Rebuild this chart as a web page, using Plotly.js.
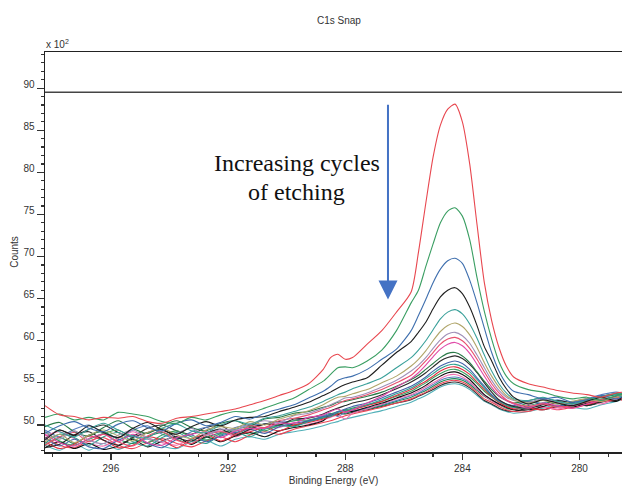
<!DOCTYPE html>
<html>
<head>
<meta charset="utf-8">
<script src="https://cdn.plot.ly/plotly-3.0.1.min.js"></script>
<style>html,body{margin:0;padding:0;background:#fff;}#chart{width:622px;height:486px;}</style>
</head>
<body>
<div id="chart"></div>
<script>
// Binding energy grid (eV)
const energy = [298.25,297.75,297.25,296.75,296.25,295.75,295.25,294.75,294.25,293.75,293.25,292.75,292.25,291.75,291.25,290.75,290.25,289.75,289.25,288.75,288.5,288.25,288.0,287.75,287.25,286.75,286.25,285.75,285.5,285.25,285.0,284.75,284.5,284.25,284.0,283.75,283.5,283.25,283.0,282.75,282.5,282.25,281.75,281.25,280.75,280.25,279.75,279.25,278.75,278.5];

// Counts (x 10^2), one array per etching cycle
const s01 = [52.3,51.2,51.0,50.6,50.9,50.8,51.0,50.4,50.2,50.8,51.0,51.3,51.6,51.9,52.4,52.9,53.5,54.1,54.9,56.6, 58.0,58.4,57.8,58.0,59.6,61.2,63.4,65.8,70.5,76.3,81.8,85.6,87.5,88.1,86.0,81.0,73.8,66.9,62.4,59.2, 57.0,55.7,54.9,54.5,54.1,53.8,53.6,53.3,53.8,53.9];
const s02 = [50.9,51.3,50.6,50.9,50.6,51.5,51.3,51.0,50.4,50.2,50.9,50.6,51.2,51.6,51.5,52.0,52.6,53.2,54.2,55.2, 56.0,56.8,56.9,56.8,57.6,58.9,61.2,64.5,66.0,68.8,71.5,74.0,75.4,75.8,74.8,72.0,67.5,63.5,60.2,57.5, 55.8,54.9,54.2,53.9,53.4,53.1,53.3,52.9,53.5,53.7];
const s03 = [49.0,49.9,50.4,49.6,49.2,50.1,50.5,49.7,49.3,50.2,50.6,49.9,50.3,51.0,50.7,51.4,51.9,52.4,53.2,54.0, 54.6,55.3,55.6,55.8,56.6,57.8,59.0,61.2,63.0,64.9,66.9,68.5,69.5,69.8,69.2,67.2,64.5,61.5,58.6,56.4, 54.9,54.0,53.6,53.1,53.3,52.7,53.0,53.5,53.1,53.4];
const s04 = [48.2,49.4,48.8,49.9,49.1,48.5,49.6,50.3,49.4,48.9,49.8,50.4,49.9,50.6,50.9,51.0,51.6,52.1,52.7,53.5, 53.9,54.4,54.8,55.1,55.6,57.1,58.6,59.9,61.0,62.2,63.8,65.2,66.0,66.3,65.6,64.0,61.8,59.3,57.6,55.7, 54.3,53.3,52.5,53.0,52.6,52.3,52.8,53.3,52.9,53.4];
const s05 = [50.0,49.2,48.6,49.5,50.2,49.4,48.7,48.5,49.6,50.1,49.3,49.1,50.0,50.5,50.1,50.8,51.1,51.6,52.1,52.8, 53.2,53.6,53.9,54.3,54.9,55.6,56.8,58.0,58.9,60.0,61.3,62.6,63.4,63.7,63.2,62.0,60.3,58.3,56.4,54.9, 53.8,53.1,52.9,53.3,52.8,52.5,52.9,53.4,53.6,53.2];
const s06 = [48.0,48.9,47.9,48.8,49.4,48.7,48.1,49.1,49.6,48.8,48.4,49.4,49.8,49.6,50.4,50.0,50.7,51.2,51.7,52.4, 52.9,53.3,53.4,53.7,54.2,55.0,55.8,57.0,57.8,58.8,60.0,61.1,61.8,62.1,61.7,60.7,59.2,57.4,55.8,54.5, 53.5,53.0,52.6,52.9,52.5,52.8,53.1,52.8,53.3,53.5];
const s07 = [49.2,48.3,49.3,48.2,47.8,48.8,49.4,48.5,48.0,49.0,49.6,48.8,49.5,49.4,50.1,50.5,50.3,51.1,51.4,52.0, 52.4,52.8,53.2,53.3,53.8,54.5,55.3,56.4,57.1,58.0,59.1,60.1,60.8,61.0,60.6,59.7,58.3,56.8,55.3,54.1, 53.3,52.9,52.7,53.1,52.7,52.4,52.9,53.3,53.0,53.5];
const s08 = [47.6,48.6,49.1,48.0,48.9,48.0,47.5,48.7,49.2,48.2,47.8,48.8,49.2,48.9,49.9,49.7,50.5,50.8,51.2,51.8, 52.1,52.5,52.9,53.1,53.6,54.2,55.0,55.9,56.7,57.6,58.6,59.6,60.2,60.4,60.0,59.1,57.8,56.3,54.9,53.8, 53.0,52.6,52.2,52.5,52.1,52.3,52.7,53.0,53.3,53.1];
const s09 = [48.9,47.9,47.5,48.4,48.9,48.0,48.9,47.9,47.6,48.5,48.9,49.2,48.5,49.3,49.6,49.6,50.2,50.2,50.9,51.2, 51.6,51.9,51.5,51.8,52.6,53.4,54.5,55.5,56.2,57.1,58.1,59.0,59.6,59.8,59.4,58.5,57.2,55.8,54.5,53.5, 52.9,52.5,52.0,52.6,52.3,52.0,52.5,52.9,53.2,53.4];
const s10 = [49.8,50.3,49.2,48.7,49.7,50.5,49.6,49.0,49.9,50.5,49.7,49.3,50.2,50.5,49.9,50.7,50.9,51.4,51.6,52.1, 52.3,52.7,52.8,53.0,53.4,53.9,54.6,55.4,55.9,56.6,57.3,58.0,58.5,58.6,58.2,57.4,56.3,55.2,54.2,53.4, 52.9,52.6,52.9,53.2,52.8,52.5,52.9,53.4,53.7,53.5];
const s11 = [47.3,47.7,48.8,49.2,48.2,47.6,48.5,49.1,49.5,48.5,48.1,49.0,49.5,48.8,49.5,50.1,50.0,50.7,50.8,51.3, 51.7,52.0,52.3,52.6,53.0,53.6,54.3,55.1,55.6,56.2,56.9,57.6,58.0,58.2,57.9,57.2,56.2,55.0,53.9,53.0, 52.5,52.2,52.0,52.4,52.9,52.6,52.3,52.8,53.3,53.1];
const s12 = [48.5,47.5,48.3,47.4,47.2,48.2,48.7,47.8,47.3,48.3,48.8,48.0,48.7,49.1,49.5,49.0,49.8,50.2,50.5,51.0, 51.2,51.6,51.9,52.2,52.6,53.2,53.9,54.6,55.1,55.7,56.4,57.0,57.4,57.6,57.3,56.6,55.6,54.6,53.6,52.9, 52.5,52.3,52.8,52.5,52.2,52.7,53.1,52.9,53.4,53.6];
const s13 = [47.8,48.9,48.5,47.6,48.6,49.1,48.0,47.5,48.5,49.1,48.3,47.8,48.8,49.2,48.6,49.5,49.9,49.8,50.4,50.9, 51.0,51.5,51.7,51.9,52.4,53.0,53.7,54.4,54.9,55.5,56.1,56.7,57.1,57.2,56.9,56.3,55.4,54.4,53.5,52.8, 52.4,52.1,52.0,52.5,52.8,52.4,52.9,53.4,53.7,53.4];
const s14 = [48.0,47.2,47.7,48.7,48.2,47.3,47.6,48.6,48.2,47.3,48.3,48.9,48.1,48.8,49.2,49.7,49.3,50.0,50.3,50.7, 51.0,51.3,51.6,51.8,52.3,52.8,53.5,54.2,54.7,55.2,55.8,56.4,56.8,56.9,56.6,56.0,55.1,54.2,53.4,52.7, 52.2,51.9,52.0,51.8,52.3,52.0,52.4,52.8,53.0,53.3];
const s15 = [49.2,48.1,47.6,48.3,49.0,49.4,48.4,47.9,48.8,49.3,48.6,48.2,49.0,49.5,49.8,49.3,50.0,50.5,50.6,51.0, 51.3,51.6,51.8,52.0,52.4,52.8,53.4,54.0,54.5,55.0,55.6,56.1,56.5,56.6,56.3,55.7,54.9,54.0,53.3,52.7, 52.3,52.1,52.6,53.0,52.6,52.3,52.7,53.1,53.4,53.8];
const s16 = [47.3,48.0,47.2,47.8,47.1,47.5,48.3,47.4,48.1,48.6,47.7,48.6,48.0,48.7,49.1,48.6,49.3,49.7,50.0,50.5, 51.3,51.2,51.8,51.6,52.1,52.6,53.2,53.8,54.2,54.7,55.3,55.8,56.2,56.3,56.0,55.4,54.5,53.6,53.0,52.5, 52.1,51.8,51.8,52.2,52.6,52.1,52.6,53.0,52.8,53.3];
const s17 = [48.7,49.2,48.4,47.8,47.5,48.4,49.2,48.4,47.9,47.6,48.4,48.9,49.3,48.6,49.4,49.7,49.7,50.3,50.1,50.6, 50.9,51.2,50.7,51.4,51.9,52.5,53.1,53.6,54.0,54.5,55.0,55.5,55.9,56.0,55.7,55.1,54.3,53.5,52.9,52.4, 52.1,52.0,52.4,52.1,51.9,52.3,52.7,52.5,53.1,53.3];
const s18 = [49.4,48.6,49.5,50.0,49.0,48.5,49.4,49.9,48.9,48.4,49.2,49.7,48.9,49.7,50.0,50.1,50.3,50.5,50.9,51.1, 51.4,51.0,51.5,51.7,52.0,52.4,52.9,53.5,53.8,54.3,54.8,55.3,55.6,55.7,55.5,55.0,54.3,53.5,53.0,52.5, 52.2,52.1,52.1,52.6,53.0,52.6,53.1,53.6,53.9,53.7];
const s19 = [47.6,48.5,47.8,48.8,49.2,48.3,47.8,48.6,49.1,48.3,47.8,48.5,49.1,49.4,48.9,49.6,50.0,49.9,50.4,50.8, 51.0,51.3,51.4,51.6,51.9,52.3,52.8,53.3,53.7,54.1,54.6,55.1,55.4,55.5,55.3,54.8,54.1,53.4,52.9,52.4, 52.0,51.8,52.3,52.6,52.2,52.6,53.0,53.3,53.6,53.8];
const s20 = [48.5,47.6,47.3,48.1,48.5,47.6,47.2,47.9,48.4,47.8,47.4,48.1,48.6,48.0,48.8,49.2,48.9,49.5,49.9,50.3, 50.5,50.8,51.1,51.3,51.7,52.1,52.6,53.1,53.5,53.9,54.4,54.9,55.2,55.3,55.1,54.6,53.9,53.1,52.7,52.2, 51.8,51.6,51.6,52.1,51.8,52.1,52.5,52.9,53.1,52.9];
const s21 = [48.4,49.4,48.7,49.5,50.0,49.1,48.7,49.6,50.0,49.3,48.9,49.7,49.9,49.0,49.7,50.1,50.4,50.0,50.5,50.9, 51.1,51.4,51.3,51.5,51.8,52.2,52.6,53.0,53.4,53.8,54.2,54.7,55.0,55.1,54.9,54.4,53.7,52.9,52.5,52.0, 51.7,51.6,52.0,51.8,52.2,52.5,52.3,52.7,53.2,53.5];
const s22 = [47.6,47.0,47.8,47.0,47.8,47.1,47.9,48.3,47.5,47.2,48.0,48.2,47.5,48.3,48.6,48.3,48.9,49.2,49.5,49.9, 50.2,50.4,50.7,50.9,51.3,51.7,52.2,52.7,53.1,53.5,54.0,54.5,54.8,54.9,54.7,54.2,53.5,52.8,52.4,51.9, 51.6,51.4,51.6,52.0,52.4,52.1,51.9,52.4,52.8,53.1];

const countSeries = [s01,s02,s03,s04,s05,s06,s07,s08,s09,s10,s11,s12,s13,s14,s15,s16,s17,s18,s19,s20,s21,s22];
const lineColors = ['#e8474f','#3a9e62','#3f6fae','#1e1e1e','#3aa09a','#b0a56a','#a090b8','#e8506e','#e04aa8','#2a7a48','#2a2a2a','#4466aa','#2fa090','#e03040','#3aa060','#111111','#f070b0','#5a80c0','#1f8a5a','#ee4455','#333333','#50b0b8'];

const xTickVals = [296,292,288,284,280];
const yTickVals = [50,55,60,65,70,75,80,85,90];

const traces = [];
for (let i = countSeries.length - 1; i >= 0; i--) {
  traces.push({
    x: energy, y: countSeries[i], type: 'scatter', mode: 'lines',
    line: {color: lineColors[i], width: 1.1, shape: 'spline', smoothing: 0.7},
    hoverinfo: 'skip', showlegend: false
  });
}

const smallFont = {family: 'Liberation Sans, Arial, sans-serif', size: 10, color: '#333'};
const serifFont = {family: 'Liberation Serif, Times New Roman, serif', size: 24, color: '#111'};

const layout = {
  width: 622, height: 486,
  margin: {l: 45, r: 0, t: 52, b: 34},
  paper_bgcolor: '#fff', plot_bgcolor: '#fff',
  showlegend: false,
  title: {text: 'C1s Snap', font: smallFont, x: 0.545, xanchor: 'center', y: 0.957, yanchor: 'middle'},
  xaxis: {
    range: [298.25, 278.55], autorange: false,
    tickmode: 'array', tickvals: xTickVals,
    ticks: 'outside', ticklen: 6, tickwidth: 1.2, tickcolor: '#333',
    minor: {dtick: 1, tick0: 280, ticks: 'outside', ticklen: 3, tickcolor: '#333'},
    showline: true, linecolor: '#222', linewidth: 1.5, mirror: true,
    showgrid: false, zeroline: false,
    tickfont: smallFont,
    title: {text: 'Binding Energy (eV)', font: smallFont, standoff: 4}
  },
  yaxis: {
    range: [46.79, 94.29], autorange: false,
    tickmode: 'array', tickvals: yTickVals,
    ticks: 'outside', ticklen: 7, tickwidth: 1.2, tickcolor: '#333',
    minor: {dtick: 1, tick0: 50, ticks: 'outside', ticklen: 3, tickcolor: '#333'},
    showline: true, linecolor: '#222', linewidth: 1.5,
    showgrid: false, zeroline: false,
    tickfont: smallFont, ticklabelshift: -4,
    title: {text: 'Counts', font: smallFont, standoff: 3}
  },
  shapes: [{
    type: 'line', xref: 'paper', x0: 0, x1: 1, yref: 'y', y0: 89.5, y1: 89.5,
    line: {color: '#444', width: 1.5}
  }],
  annotations: [
    {text: 'x 10<sup>2</sup>', xref: 'paper', yref: 'paper', x: 0, y: 1, xanchor: 'left', yanchor: 'bottom',
     showarrow: false, font: smallFont, xshift: -1},
    {text: 'Increasing cycles', xref: 'paper', yref: 'paper', x: 0.4367, y: 0.7225,
     xanchor: 'center', yanchor: 'middle', showarrow: false, font: serifFont},
    {text: 'of etching', xref: 'paper', yref: 'paper', x: 0.4367, y: 0.65,
     xanchor: 'center', yanchor: 'middle', showarrow: false, font: serifFont},
    {text: '', xref: 'x', yref: 'y', x: 286.54, y: 64.9, axref: 'x', ayref: 'y', ax: 286.54, ay: 88.2,
     showarrow: true, arrowhead: 2, arrowsize: 1.9, arrowwidth: 2, arrowcolor: '#4472C4'}
  ]
};

Plotly.newPlot('chart', traces, layout, {staticPlot: true, displayModeBar: false});
</script>
</body>
</html>
